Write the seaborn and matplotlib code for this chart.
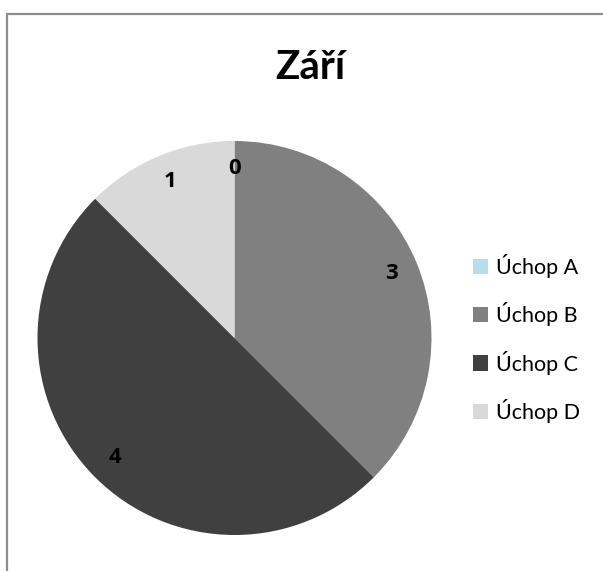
import numpy as np
import seaborn as sns
import matplotlib.pyplot as plt
from matplotlib.patches import Rectangle, Patch

# chart data
categories = ["Úchop A", "Úchop B", "Úchop C", "Úchop D"]
values = [0, 3, 4, 1]
colors = ["#b7dde8", "#808080", "#404040", "#d9d9d9"]
title = "Září"

sns.set_theme(style="white")
plt.rcParams['font.family'] = ['Lato', 'DejaVu Sans']

W, H = 603, 571
fig = plt.figure(figsize=(W / 100, H / 100), dpi=100)

# outer chart border (left and top edges visible)
fig.patches.append(Rectangle((7 / W, -0.05), 1.2, 1 - 14 / H + 0.05,
                             transform=fig.transFigure, fill=False,
                             edgecolor="#8c8c8c", linewidth=1.6))

cx, cy, r = 234.5, 233, 197
ax = fig.add_axes([(cx - r) / W, (cy - r) / H, 2 * r / W, 2 * r / H])
wedges, _ = ax.pie(values, colors=colors, startangle=90, counterclock=False,
                   wedgeprops=dict(linewidth=0))

# data labels inside the slices, near the rim
for w, v in zip(wedges, values):
    mid = np.deg2rad((w.theta1 + w.theta2) / 2)
    ax.text(0.86 * np.cos(mid), 0.86 * np.sin(mid), str(v),
            ha="center", va="center", fontsize=16, fontweight="bold",
            family=["Open Sans", "DejaVu Sans"], color="black")

ax.set_xlim(-1, 1)
ax.set_ylim(-1, 1)
ax.set_aspect("equal")
ax.axis("off")

fig.text(310.5 / W, 1 - 79 / H, title, ha="center", va="baseline",
         fontsize=29, fontweight="bold", color="black")

handles = [Patch(facecolor=c, edgecolor="none") for c in colors]
fig.legend(handles, categories, loc="center left",
           bbox_to_anchor=(473 / W, 1 - 338.5 / H), frameon=False,
           borderpad=0, borderaxespad=0, labelcolor="black",
           fontsize=15.5, handlelength=0.7, handleheight=0.7,
           handletextpad=0.35, labelspacing=1.12)

fig.savefig("out.png", dpi=100)
